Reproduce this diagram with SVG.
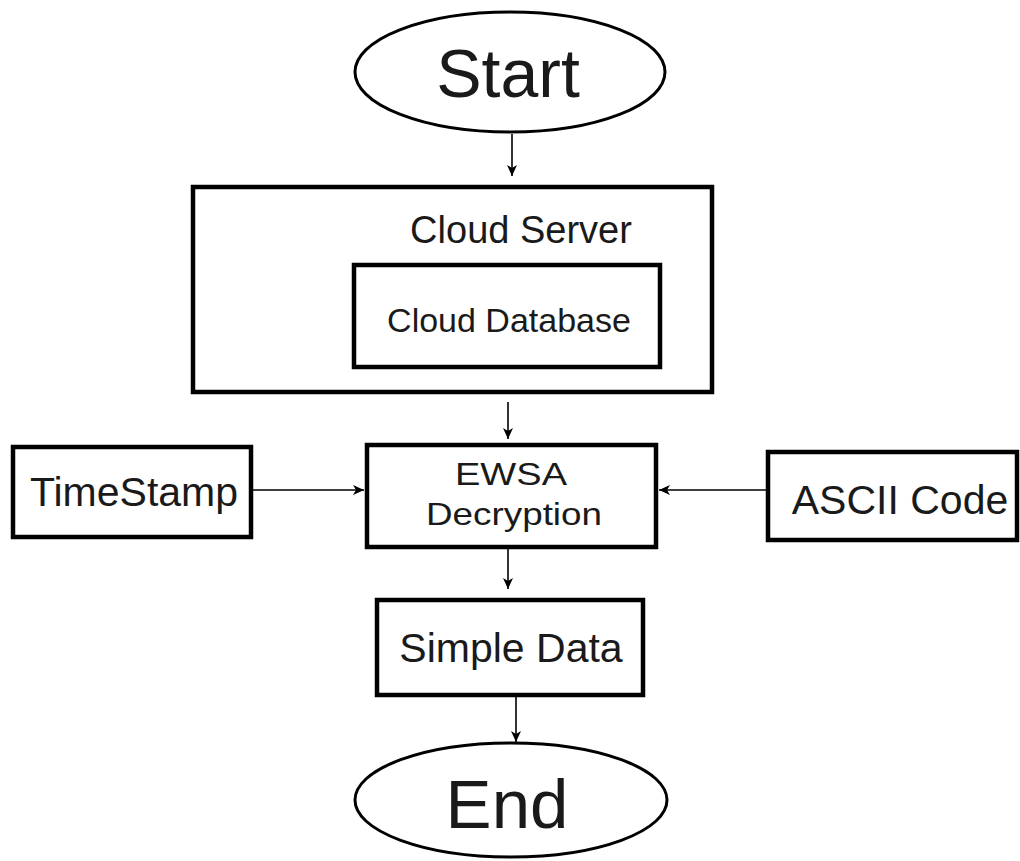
<svg xmlns="http://www.w3.org/2000/svg" width="1020" height="861" viewBox="0 0 1020 861">
<defs>
<style>
.box{fill:#fff;stroke:#000;stroke-width:4.5}
.ell{fill:#fff;stroke:#000;stroke-width:3}
.t{font-family:"Liberation Sans",Arial,sans-serif;fill:#1a1a1a;text-anchor:middle}
.c{stroke:#000;stroke-width:1.6;fill:none;marker-end:url(#ah)}
</style>
<marker id="ah" markerUnits="userSpaceOnUse" markerWidth="12" markerHeight="10" refX="11" refY="5" orient="auto">
<path d="M0,0 L11,5 L0,10 L3,5 z" fill="#000"/>
</marker>
</defs>
<rect width="1020" height="861" fill="#fff"/>
<g id="connectors">
<line class="c" x1="512" y1="134" x2="512" y2="176"/>
<line class="c" x1="508" y1="402" x2="508" y2="439"/>
<line class="c" x1="252" y1="490" x2="364" y2="490"/>
<line class="c" x1="767" y1="490" x2="659" y2="490"/>
<line class="c" x1="508" y1="549" x2="508" y2="589"/>
<line class="c" x1="516" y1="697" x2="516" y2="742"/>
</g>
<g id="start">
<ellipse class="ell" cx="510" cy="72" rx="155" ry="60"/>
<text class="t" x="508" y="97" font-size="68">Start</text>
</g>
<g id="cloud-server">
<rect class="box" x="193" y="187" width="519" height="205"/>
<text class="t" x="521" y="243" font-size="38">Cloud Server</text>
</g>
<g id="cloud-database">
<rect class="box" x="354" y="265" width="306" height="102"/>
<text class="t" x="509" y="332" font-size="34">Cloud Database</text>
</g>
<g id="ewsa">
<rect class="box" x="367" y="445" width="289" height="102"/>
<text class="t" x="511" y="485" font-size="32" textLength="112" lengthAdjust="spacingAndGlyphs">EWSA</text>
<text class="t" x="514" y="525" font-size="32" textLength="176" lengthAdjust="spacingAndGlyphs">Decryption</text>
</g>
<g id="timestamp">
<rect class="box" x="13" y="447" width="238" height="90"/>
<text class="t" x="134" y="506" font-size="41">TimeStamp</text>
</g>
<g id="ascii">
<rect class="box" x="768" y="452" width="249" height="88"/>
<text class="t" x="900" y="514" font-size="41">ASCII Code</text>
</g>
<g id="simple-data">
<rect class="box" x="377" y="600" width="266" height="95"/>
<text class="t" x="511" y="662" font-size="41">Simple Data</text>
</g>
<g id="end">
<ellipse class="ell" cx="511" cy="800" rx="156" ry="57"/>
<text class="t" x="507" y="828" font-size="69">End</text>
</g>
</svg>
